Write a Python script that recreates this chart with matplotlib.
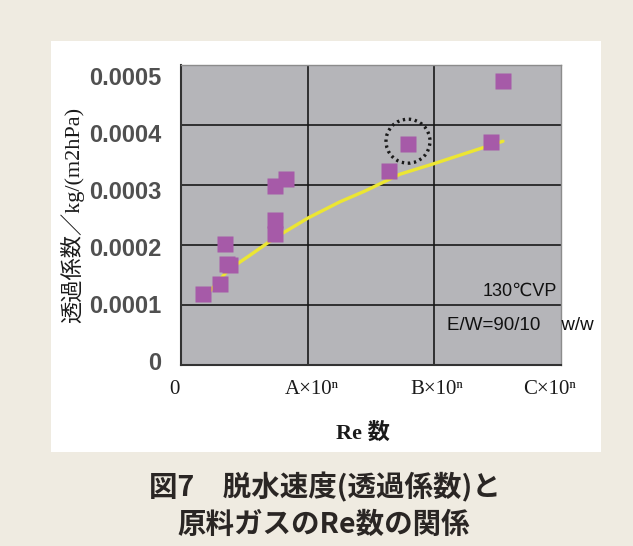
import matplotlib
matplotlib.use("Agg")
import matplotlib.pyplot as plt
from matplotlib.patches import Rectangle, Ellipse

# Measured permeance vs. Reynolds number (x in units of 10^n)
re_values = [0.174, 0.308, 0.360, 0.385, 0.347, 0.742, 0.742, 0.742, 0.829,
             1.642, 1.792, 2.447, 2.541]
permeance = [0.000118, 0.000135, 0.000168, 0.000166, 0.000202, 0.000219,
             0.000241, 0.000298, 0.000310, 0.000323, 0.000368, 0.000372,
             0.000473]

# Trend curve through the data
trend_re = [0.174, 0.371, 0.545, 0.742, 1.003, 1.255, 1.453, 1.729, 1.989,
            2.250, 2.542]
trend_perm = [0.000110, 0.000158, 0.000183, 0.000212, 0.000245, 0.000272,
              0.000290, 0.000318, 0.000335, 0.000353, 0.000373]

# Highlighted point (circled)
circled_re = 1.792
circled_perm = 0.000373

y_tick_values = [0, 0.0001, 0.0002, 0.0003, 0.0004, 0.0005]
y_tick_labels = ["0", "0.0001", "0.0002", "0.0003", "0.0004", "0.0005"]
x_tick_labels = ["0", "A×10ⁿ", "B×10ⁿ", "C×10ⁿ"]
x_grid = [1, 2]

W, H = 633, 546
fig = plt.figure(figsize=(W / 100, H / 100), dpi=100)
fig.patch.set_facecolor("#efebe1")

# white card behind the chart
fig.add_artist(Rectangle((51 / W, 1 - 452 / H), 550 / W, 411 / H,
                         transform=fig.transFigure, facecolor="white",
                         edgecolor="none", zorder=0))

ax = fig.add_axes([181 / W, 1 - 365 / H, 380 / W, 300 / H])
ax.set_facecolor("#b5b5b9")
ax.set_xlim(0, 3.0)
ax.set_ylim(0, 0.0005)

for v in y_tick_values[1:-1]:
    ax.axhline(v, color="#1a1a1a", lw=1.2, zorder=1)
for v in x_grid:
    ax.axvline(v, color="#1a1a1a", lw=1.2, zorder=1)

ax.plot(trend_re, trend_perm, color="#ece632", lw=2.4, zorder=2,
        solid_capstyle="round")
ax.plot(re_values, permeance, linestyle="none", marker="s", markersize=12.2,
        markerfacecolor="#a65aa8", markeredgecolor="none", zorder=3)

# dotted circle around the highlighted point (44 px across)
ew = 44 / 380 * 3.0
eh = 44 / 300 * 0.0005
ax.add_patch(Ellipse((circled_re, circled_perm), ew, eh, fill=False,
                     edgecolor="#1a1a1a", lw=2.4, linestyle=(0, (0.7, 1.1)),
                     zorder=4))

# y tick labels sit on a slightly compressed spacing
ax.set_yticks([0.0000067 + 0.95 * v for v in y_tick_values])
ax.set_yticklabels(y_tick_labels, fontsize=17, fontweight="bold",
                   color="#505050", family="Liberation Sans")
ax.tick_params(axis="y", length=0, pad=14)
ax.set_xticks([])

# x category labels placed under the axis
x_label_pos = [-0.05, 1.03, 2.02, 2.91]
for xp, lab in zip(x_label_pos, x_tick_labels):
    ax.text(xp, -0.08, lab, transform=ax.get_xaxis_transform(),
            ha="center", va="center", fontsize=15,
            family=["Liberation Serif", "DejaVu Serif"], color="#1a1a1a",
            clip_on=False)

for s in ("left", "bottom"):
    ax.spines[s].set_color("#333333")
    ax.spines[s].set_linewidth(1.5)
for s in ("top", "right"):
    ax.spines[s].set_color("#8c8c8c")
    ax.spines[s].set_linewidth(1.0)

fig.text(557 / W, 1 - 291 / H, "130℃VP", ha="right", va="center",
         fontsize=13, family=["Liberation Sans", "DejaVu Sans"],
         color="#111111")
fig.text(447 / W, 1 - 325 / H, "E/W=90/10    w/w", ha="left", va="center",
         fontsize=13.5, family=["Liberation Sans", "DejaVu Sans"],
         color="#111111")

fig.text(72 / W, 1 - 215 / H, "透過係数／kg/(m2hPa)", rotation=90,
         ha="center", va="center", fontsize=16,
         family=["Liberation Serif", "Noto Sans CJK JP"], color="#1a1a1a")
fig.text(363 / W, 1 - 433 / H, "Re 数", ha="center", va="center",
         fontsize=16, fontweight="bold",
         family=["Liberation Serif", "Noto Sans CJK JP"], color="#1a1a1a")

fig.text(325 / W, 1 - 487 / H, "図7　脱水速度(透過係数)と", ha="center",
         va="center", fontsize=20.5, fontweight="bold",
         family=["Noto Sans CJK JP"], color="#2a2624")
fig.text(324 / W, 1 - 525 / H, "原料ガスのRe数の関係", ha="center",
         va="center", fontsize=20.5, fontweight="bold",
         family=["Noto Sans CJK JP"], color="#2a2624")

fig.savefig("out.png", dpi=100, facecolor=fig.get_facecolor())
